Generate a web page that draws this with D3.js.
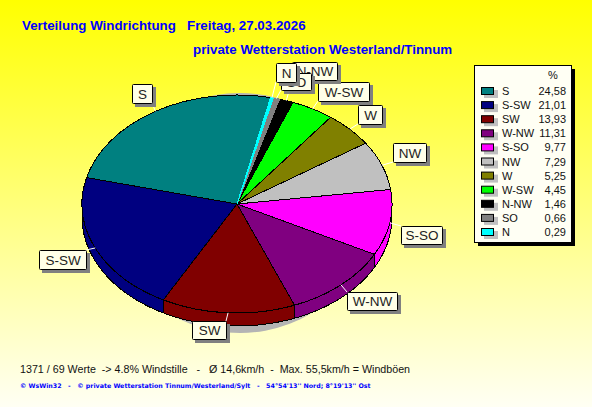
<!DOCTYPE html>
<html><head><meta charset="utf-8">
<script src="https://cdn.jsdelivr.net/npm/d3@7/dist/d3.min.js"></script>
<style>html,body{margin:0;padding:0;background:#fff}svg{display:block}text{font-family:"Liberation Sans",Arial,sans-serif;white-space:pre}</style>
</head><body><div id="c"></div>
<script>
// ---- data ----
const categories = ["S","S-SW","SW","W-NW","S-SO","NW","W","W-SW","N-NW","SO","N"];
const percent = [24.58,21.01,13.93,11.31,9.77,7.29,5.25,4.45,1.46,0.66,0.29];
const percentLabels = ["24,58","21,01","13,93","11,31","9,77","7,29","5,25","4,45","1,46","0,66","0,29"];
const colors = ["#008080","#000080","#800000","#800080","#ff00ff","#c0c0c0","#808000","#00ff00","#000000","#808080","#00ffff"];
const title1 = "Verteilung Windrichtung   Freitag, 27.03.2026";
const title2 = "private Wetterstation Westerland/Tinnum";
const footer1 = "1371 / 69 Werte  -> 4.8% Windstille   -   Ø 14,6km/h  -  Max. 55,5km/h = Windböen";
const footer2 = "© WsWin32   -   © private Wetterstation Tinnum/Westerland/Sylt   -   54°54'13'' Nord; 8°19'13'' Ost";
// ---- layout ----
const W=592,H=407,cx=237,cy=204,rx=155,ry=109,depth=13,start=12.5*Math.PI/180;
const labelBoxes={ "S":[132,84,20,19],"N-NW":[292,62,45,18],"SO":[281,73,30,17],"N":[276,63,20,19],"W-SW":[318,82,51,19],
 "W":[358,105,24,19],"NW":[393,143,33,19],"S-SO":[401,226,41,18],"W-NW":[347,292,50,18],"SW":[192,321,34,18],"S-SW":[39,250,47,19]};

const svg=d3.select("#c").append("svg").attr("width",W).attr("height",H);
const defs=svg.append("defs");
const g=defs.append("linearGradient").attr("id","bg").attr("x1",0).attr("y1",0).attr("x2",0).attr("y2",1);
g.append("stop").attr("offset",0).attr("stop-color","#ffff00");
g.append("stop").attr("offset",1).attr("stop-color","#fffff4");
svg.append("rect").attr("width",W).attr("height",H).attr("fill","url(#bg)");

svg.append("text").attr("x",22).attr("y",30).attr("fill","#0000ff").attr("font-weight","bold").attr("font-size",13.33).text(title1);
svg.append("text").attr("x",193).attr("y",54).attr("fill","#0000ff").attr("font-weight","bold").attr("font-size",13.33).text(title2);

// shadow
svg.append("ellipse").attr("cx",240).attr("cy",213).attr("rx",130).attr("ry",120).attr("fill","#b4b4b4");

const pie=d3.pie().sort(null).startAngle(start).endAngle(start-2*Math.PI);
const arcs=pie(percent);
const px=a=>cx+rx*Math.sin(a), py=a=>cy-ry*Math.cos(a);

// walls (front half only)
const lineGen=d3.line().x(d=>d[0]).y(d=>d[1]);
const wallLo=-1.5*Math.PI, wallHi=-0.5*Math.PI;
arcs.forEach((d,i)=>{
  const lo=Math.max(d.endAngle,wallLo), hi=Math.min(d.startAngle,wallHi);
  if(lo>=hi) return;
  const n=40, ang=d3.range(n+1).map(k=>lo+(hi-lo)*k/n);
  const pts=ang.map(a=>[px(a),py(a)]).concat(ang.slice().reverse().map(a=>[px(a),py(a)+depth]));
  svg.append("path").attr("d",lineGen(pts)+"Z").attr("fill",colors[i]).attr("stroke","#000").attr("stroke-width",1).attr("shape-rendering","crispEdges");
});

// top face: the thinnest slices keep their own colour as outline so they stay visible
const arcGen=d3.arc().innerRadius(0).outerRadius(rx);
svg.append("g").attr("transform",`translate(${cx},${cy}) scale(1,${ry/rx})`)
 .selectAll("path").data(arcs).join("path").attr("d",arcGen)
 .attr("fill",(d,i)=>colors[i]).attr("stroke",(d,i)=>percent[i]<1?colors[i]:"#000").attr("stroke-width",1).attr("vector-effect","non-scaling-stroke").attr("shape-rendering","crispEdges");

// callouts
const mids=arcs.map(d=>(d.startAngle+d.endAngle)/2);
categories.forEach((name,i)=>{
  const b=labelBoxes[name], a=mids[i];
  const x0=px(a),y0=py(a);
  const x1=Math.max(b[0],Math.min(b[0]+b[2],x0)), y1=Math.max(b[1],Math.min(b[1]+b[3],y0));
  svg.append("line").attr("x1",x0).attr("y1",y0).attr("x2",x1).attr("y2",y1).attr("stroke","#ffffff").attr("stroke-width",1);
});
// labels
categories.forEach(name=>{
  const b=labelBoxes[name];
  svg.append("rect").attr("x",b[0]+3).attr("y",b[1]+3).attr("width",b[2]+1).attr("height",b[3]+1).attr("fill","#808080");
  svg.append("rect").attr("x",b[0]+.5).attr("y",b[1]+.5).attr("width",b[2]).attr("height",b[3]).attr("rx",1).attr("fill","#ffffe8").attr("stroke","#000");
  svg.append("text").attr("x",b[0]+b[2]/2+.5).attr("y",b[1]+b[3]/2+5).attr("text-anchor","middle").attr("font-size",13.5).attr("fill","#222").text(name);
});

// legend
const lx=474,ly=65,lw=97,lh=177;
svg.append("rect").attr("x",lx+4).attr("y",ly+4).attr("width",lw).attr("height",lh).attr("fill","#000");
svg.append("rect").attr("x",lx+.5).attr("y",ly+.5).attr("width",lw).attr("height",lh).attr("fill","#fffff4").attr("stroke","#000");
svg.append("text").attr("x",553).attr("y",79).attr("text-anchor","middle").attr("font-size",11).attr("fill","#111").text("%");
const rowY=d3.scalePoint().domain(categories).range([91,232]);
const rows=svg.append("g").selectAll("g").data(categories).join("g").attr("transform",c=>`translate(0,${rowY(c)})`);
rows.append("rect").attr("x",484).attr("y",-1).attr("width",14).attr("height",8).attr("fill","#c0c0c0");
rows.append("rect").attr("x",481.5).attr("y",-3.5).attr("width",12).attr("height",7).attr("fill",(c,i)=>colors[i]).attr("stroke","#000");
rows.append("text").attr("x",502).attr("y",4).attr("font-size",11).attr("fill","#111").text(c=>c);
rows.append("text").attr("x",566).attr("y",4).attr("text-anchor","end").attr("font-size",11).attr("fill","#111").text((c,i)=>percentLabels[i]);

// footers
svg.append("text").attr("x",20).attr("y",373).attr("font-size",10.7).attr("fill","#111").text(footer1);
svg.append("text").attr("x",20).attr("y",388).attr("font-size",6.3).attr("font-weight","bold").attr("fill","#0000ff").style("font-family","'DejaVu Sans'").text(footer2);
</script></body></html>
